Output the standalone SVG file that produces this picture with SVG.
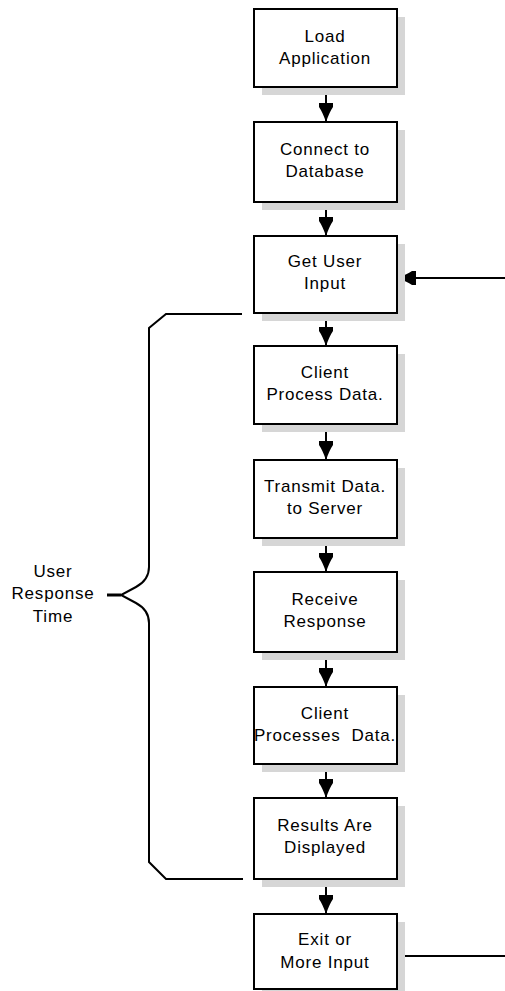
<svg xmlns="http://www.w3.org/2000/svg" width="505" height="991" viewBox="0 0 505 991">
  <style>
    .box { fill: #ffffff; stroke: #000000; stroke-width: 2; }
    .shadow { fill: #d6d6d6; stroke: none; }
    .label { font-family: "Liberation Sans", Arial, sans-serif; font-size: 17px; letter-spacing: 0.8px; fill: #000000; text-anchor: middle; white-space: pre; }
    .wire { fill: none; stroke: #000000; stroke-width: 2; }
  </style>
  <defs>
    <marker id="head" markerUnits="userSpaceOnUse" markerWidth="20" markerHeight="18" viewBox="0 -9 20 18" refX="19" refY="0" orient="auto">
      <path d="M0,-7 L4,-7 Q9,-3.5 19,0 Q9,3.5 4,7 L0,7 Z" fill="#000000"/>
    </marker>
  </defs>

  <!-- connectors -->
  <g id="connectors">
    <line class="wire" x1="326" y1="87" x2="326" y2="122" marker-end="url(#head)"/>
    <line class="wire" x1="326" y1="202" x2="326" y2="236" marker-end="url(#head)"/>
    <line class="wire" x1="326" y1="313" x2="326" y2="346" marker-end="url(#head)"/>
    <line class="wire" x1="326" y1="424" x2="326" y2="460" marker-end="url(#head)"/>
    <line class="wire" x1="326" y1="538" x2="326" y2="572" marker-end="url(#head)"/>
    <line class="wire" x1="326" y1="652" x2="326" y2="687" marker-end="url(#head)"/>
    <line class="wire" x1="326" y1="764" x2="326" y2="798" marker-end="url(#head)"/>
    <line class="wire" x1="326" y1="879" x2="326" y2="914" marker-end="url(#head)"/>
    <!-- loop back into user input -->
    <line class="wire" x1="505" y1="278" x2="397" y2="278" marker-end="url(#head)"/>
    <!-- exit / more input outgoing line -->
    <line class="wire" x1="397" y1="956" x2="505" y2="956"/>
  </g>

  <!-- brace spanning the response steps -->
  <g id="brace">
    <path class="wire" d="M242,314 L166,314 L149,328 L149,567 Q149,580 136,587 L121,595 L136,603 Q149,610 149,623 L149,862 L166,879 L243,879"/>
    <line x1="107" y1="595" x2="121" y2="595" stroke="#000000" stroke-width="3"/>
    <text class="label" x="53" y="577">User</text>
    <text class="label" x="53" y="599">Response</text>
    <text class="label" x="53" y="622">Time</text>
  </g>

  <g id="load-application">
    <rect class="shadow" x="262" y="17" width="143" height="78"/>
    <rect class="box" x="254" y="9" width="143" height="78"/>
    <text class="label" x="325" y="42">Load</text>
    <text class="label" x="325" y="64">Application</text>
  </g>

  <g id="connect-database">
    <rect class="shadow" x="262" y="130" width="143" height="80"/>
    <rect class="box" x="254" y="122" width="143" height="80"/>
    <text class="label" x="325" y="155">Connect to</text>
    <text class="label" x="325" y="177">Database</text>
  </g>

  <g id="get-user-input">
    <rect class="shadow" x="262" y="244" width="143" height="77"/>
    <rect class="box" x="254" y="236" width="143" height="77"/>
    <text class="label" x="325" y="267">Get User</text>
    <text class="label" x="325" y="289">Input</text>
  </g>

  <g id="client-process-data">
    <rect class="shadow" x="262" y="354" width="143" height="78"/>
    <rect class="box" x="254" y="346" width="143" height="78"/>
    <text class="label" x="325" y="378">Client</text>
    <text class="label" x="325" y="400">Process Data.</text>
  </g>

  <g id="transmit-data">
    <rect class="shadow" x="262" y="468" width="143" height="78"/>
    <rect class="box" x="254" y="460" width="143" height="78"/>
    <text class="label" x="325" y="492">Transmit Data.</text>
    <text class="label" x="325" y="514">to Server</text>
  </g>

  <g id="receive-response">
    <rect class="shadow" x="262" y="580" width="143" height="80"/>
    <rect class="box" x="254" y="572" width="143" height="80"/>
    <text class="label" x="325" y="605">Receive</text>
    <text class="label" x="325" y="627">Response</text>
  </g>

  <g id="client-processes-data">
    <rect class="shadow" x="262" y="695" width="143" height="77"/>
    <rect class="box" x="254" y="687" width="143" height="77"/>
    <text class="label" x="325" y="719">Client</text>
    <text class="label" x="325" y="741">Processes  Data.</text>
  </g>

  <g id="results-displayed">
    <rect class="shadow" x="262" y="806" width="143" height="81"/>
    <rect class="box" x="254" y="798" width="143" height="81"/>
    <text class="label" x="325" y="831">Results Are</text>
    <text class="label" x="325" y="853">Displayed</text>
  </g>

  <g id="exit-more-input">
    <rect class="shadow" x="262" y="922" width="143" height="75"/>
    <rect class="box" x="254" y="914" width="143" height="75"/>
    <text class="label" x="325" y="945">Exit or</text>
    <text class="label" x="325" y="968">More Input</text>
  </g>
</svg>
